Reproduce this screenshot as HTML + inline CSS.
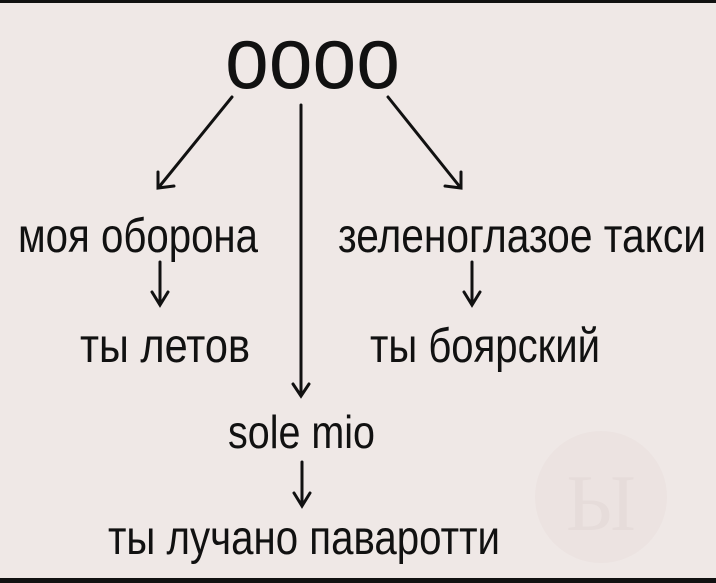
<!DOCTYPE html>
<html><head><meta charset="utf-8"><style>
html,body{margin:0;padding:0;background:#efe8e6;}
svg{display:block}
text{font-family:"Liberation Sans Narrow","Liberation Sans",sans-serif;fill:#111;}
</style></head><body>
<svg width="716" height="583" viewBox="0 0 716 583">
<rect width="716" height="583" fill="#efe8e6"/>
<rect width="716" height="3" fill="#111"/>
<rect y="578" width="716" height="5" fill="#111"/>
<circle cx="601" cy="497" r="66" fill="#ece3e1"/>
<text x="601" y="530" font-size="80" text-anchor="middle" style="font-family:'Liberation Serif',serif;fill:#e6dcda">Ы</text>
<g stroke="#111" stroke-width="3" fill="none" stroke-linecap="round">
<line x1="232" y1="97" x2="159" y2="187"/>
<polyline points="158,172 158,188 174,186"/>
<line x1="388" y1="97" x2="460" y2="187"/>
<polyline points="461,172 461,188 445,186"/>
<line x1="301" y1="105" x2="301" y2="395"/>
<polyline points="293,384 301,396 309,384"/>
<line x1="160" y1="262" x2="160" y2="304"/>
<polyline points="152,292 160,305 168,292"/>
<line x1="472" y1="262" x2="472" y2="304"/>
<polyline points="464,292 472,305 480,292"/>
<line x1="302" y1="462" x2="302" y2="505"/>
<polyline points="294,493 302,506 310,493"/>
</g>
<text x="225" y="88" font-size="88" textLength="175" lengthAdjust="spacingAndGlyphs">оооо</text>
<text x="18" y="252" font-size="48" textLength="240" lengthAdjust="spacingAndGlyphs">моя оборона</text>
<text x="338" y="252" font-size="48" textLength="368" lengthAdjust="spacingAndGlyphs">зеленоглазое такси</text>
<text x="80" y="362" font-size="48" textLength="170" lengthAdjust="spacingAndGlyphs">ты летов</text>
<text x="370" y="362" font-size="48" textLength="230" lengthAdjust="spacingAndGlyphs">ты боярский</text>
<text x="228" y="448" font-size="46" textLength="147" lengthAdjust="spacingAndGlyphs">sole mio</text>
<text x="108" y="554" font-size="48" textLength="392" lengthAdjust="spacingAndGlyphs">ты лучано паваротти</text>
</svg>
</body></html>
